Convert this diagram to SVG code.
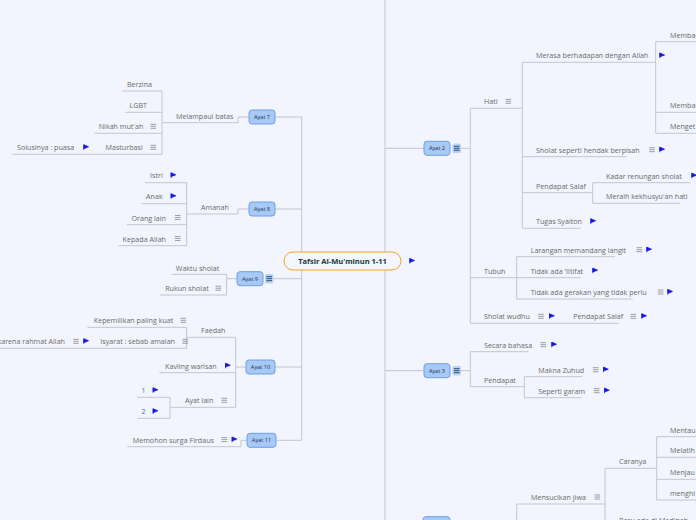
<svg xmlns="http://www.w3.org/2000/svg" xmlns:xlink="http://www.w3.org/1999/xlink" width="696" height="520" viewBox="0 0 696 520">
<style>
.c{stroke:#c2c6ce;stroke-width:1;fill:none}
.t{font-family:"Open Sans","Liberation Sans",sans-serif;font-size:7.15px;fill:#6a6a6a}
.e{text-anchor:end}
.n{fill:#a7c9f6;stroke:#6d9fe8;stroke-width:1}
.nt{font-family:"Open Sans","Liberation Sans",sans-serif;font-size:5.6px;fill:#1d2f4f;text-anchor:middle}
.ib{fill:#b7d3f8;stroke:none}
</style>
<defs>
<g id="note"><path d="M-2.8,-2H2.8M-2.8,0H2.8M-2.8,2H2.8" stroke="#808080" stroke-width="0.75" fill="none"/></g>
<g id="noteD"><path d="M-2.8,-2H2.8M-2.8,0H2.8M-2.8,2H2.8" stroke="#23385c" stroke-width="0.9" fill="none"/></g>
<g id="flag"><path d="M-2.2,-2.6V2.6M-2.2,-2.6L2.6,-0.5L-2.2,1.4Z" stroke="#1414e6" stroke-width="0.7" fill="#1414e6"/></g>
</defs>
<rect x="0" y="0" width="696" height="520" fill="#f2f5fd"/>
<g id="connectors">
<path class="c" d="M249,117H238V122.7H162M162,91V154.3M122,91H162M125.3,112.3H162M94.3,133.3H162M12.3,154.3H162"/>
<path class="c" d="M249,209H238V214H186.7M186.7,182.7V245.7M145,182.7H186.7M141.7,203.7H186.7M126.7,224.7H186.7M118.3,245.7H186.7"/>
<path class="c" d="M237,278.7H226.7M226.7,274.3V295M171.7,274.3H226.7M160,295H226.7"/>
<path class="c" d="M246,367H235.7M235.7,337.3V407.3M186.7,337.3H235.7M186.7,327.3V348.3M87.3,327.3H186.7M0,348.3H187M159.3,372.7H235.7M170,407.3H235.7M170,397.3V418.3M137.3,397.3H170M137.3,418.3H170"/>
<path class="c" d="M247,440.3H241V446.7H127.3"/>
<path class="c" d="M301.7,117V440.3M275,117H301.7M275,209H301.7M273,278.7H301.7M275,367H301.7M276,440.3H301.7"/>
<path class="c" d="M385,0V520M385,148.3H424M385,370.7H424"/>
<path class="c" d="M461,148.3H470.3M470.3,108.3V323.3M470.3,108.3H522.3M522.3,62.3V228.3M522.3,62.3H655.7M655.7,41.7V133.3M655.7,41.7H696M655.7,112.3H696M655.7,133.3H696M522.3,156.7H626.7M522.3,192.7H592.7M592.7,182.7V203.3M592.7,182.7H690M592.7,203.3H680M522.3,228.3H580.7"/>
<path class="c" d="M470.3,277.7H516.7M516.7,256.7V299M516.7,256.7H615M516.7,277.7H580.7M516.7,299H632.7M470.3,323.3H619"/>
<path class="c" d="M461,370.7H470.3M470.3,351.7V386.7M470.3,351.7H528.3M470.3,386.7H524.3M524.3,376.7V397.7M524.3,376.7H582.3M524.3,397.7H581.7"/>
<path class="c" d="M516.7,504V520M516.7,504H605M605,468.3V520M605,468.3H656.7M656.7,436.7V500M656.7,436.7H696M656.7,457.3H696M656.7,479.3H696M656.7,500H696"/>
</g>
<g id="root">
<rect x="284" y="252" width="117" height="18" rx="9" fill="#f4f6fd" stroke="#f5a41c" stroke-width="1"/>
<text x="342.5" y="264" font-family="'Open Sans','Liberation Sans',sans-serif" font-size="7.5px" font-weight="bold" fill="#17353a" text-anchor="middle">Tafsir Al-Mu'minun 1-11</text>
<use href="#flag" x="412" y="261"/>
</g>
<g id="ayat7">
<rect class="n" x="249" y="110" width="26" height="14" rx="3"/><text class="nt" x="262" y="119">Ayat 7</text>
<text class="t" x="176" y="118.5">Melampaui batas</text>
<text class="t e" x="152" y="87.3">Berzina</text>
<text class="t e" x="147" y="108.3">LGBT</text>
<text class="t e" x="143.3" y="129.3">Nikah mut'ah</text><use href="#note" x="153.3" y="126.3"/>
<text class="t e" x="142.7" y="150.3">Masturbasi</text><use href="#note" x="153.3" y="147.3"/>
<text class="t" x="17" y="150.3">Solusinya : puasa</text><use href="#flag" x="86" y="147.3"/>
</g>
<g id="ayat8">
<rect class="n" x="249" y="202" width="26" height="14" rx="3"/><text class="nt" x="262" y="211">Ayat 8</text>
<text class="t" x="201" y="210">Amanah</text>
<text class="t e" x="162.7" y="178.3">Istri</text><use href="#flag" x="173.3" y="175.3"/>
<text class="t e" x="162.7" y="199.3">Anak</text><use href="#flag" x="173.3" y="196.3"/>
<text class="t e" x="166" y="220.5">Orang lain</text><use href="#note" x="177.7" y="217.5"/>
<text class="t e" x="166" y="241.5">Kepada Allah</text><use href="#note" x="177.7" y="238.5"/>
</g>
<g id="ayat9">
<rect class="n" x="237" y="271.7" width="26" height="14" rx="3"/><text class="nt" x="250" y="280.7">Ayat 9</text>
<rect class="ib" x="265" y="274" width="8.5" height="9.5" rx="1.5"/><use href="#noteD" x="269.2" y="278.7"/>
<text class="t e" x="219.3" y="270.5">Waktu sholat</text>
<text class="t e" x="208.7" y="291.2">Rukun sholat</text><use href="#note" x="218.3" y="288.2"/>
</g>
<g id="ayat10">
<rect class="n" x="246" y="360" width="29" height="14" rx="3"/><text class="nt" x="260.5" y="369">Ayat 10</text>
<text class="t" x="201" y="333.3">Faedah</text>
<text class="t e" x="173.3" y="323.3">Kepemilikan paling kuat</text><use href="#note" x="183.3" y="320.3"/>
<text class="t e" x="175" y="344.3">Isyarat : sebab amalan</text><use href="#note" x="185.3" y="341.3"/>
<text class="t e" x="65" y="344.3">karena rahmat Allah</text><use href="#note" x="76" y="341.3"/><use href="#flag" x="86" y="341.3"/>
<text class="t e" x="216.7" y="368.7">Kavling warisan</text><use href="#flag" x="227.7" y="365.7"/>
<text class="t e" x="213.3" y="403.3">Ayat lain</text><use href="#note" x="224.3" y="400.3"/>
<text class="t e" x="145.7" y="393.3">1</text><use href="#flag" x="155.3" y="390.3"/>
<text class="t e" x="145.7" y="414.3">2</text><use href="#flag" x="155.3" y="411.3"/>
</g>
<g id="ayat11">
<rect class="n" x="247" y="433.3" width="29" height="14" rx="3"/><text class="nt" x="261.5" y="442.3">Ayat 11</text>
<text class="t e" x="214" y="442.6">Memohon surga Firdaus</text><use href="#note" x="224.3" y="439.6"/><use href="#flag" x="234.3" y="439.6"/>
</g>
<g id="ayat2">
<rect class="n" x="424" y="141.3" width="26" height="14" rx="3"/><text class="nt" x="437" y="150.3">Ayat 2</text>
<rect class="ib" x="452.5" y="143.5" width="8.5" height="9.5" rx="1.5"/><use href="#noteD" x="456.7" y="148.3"/>
<text class="t" x="484" y="104.3">Hati</text><use href="#note" x="508.3" y="101.3"/>
<text class="t" x="536" y="58.3">Merasa berhadapan dengan Allah</text><use href="#flag" x="662" y="55.5"/>
<text class="t" x="670" y="37.7">Membac</text>
<text class="t" x="670" y="108.3">Membac</text>
<text class="t" x="670" y="129.3">Menget</text>
<text class="t" x="536" y="152.7">Sholat seperti hendak berpisah</text><use href="#note" x="652" y="149.7"/><use href="#flag" x="662" y="149.7"/>
<text class="t" x="536" y="188.7">Pendapat Salaf</text>
<text class="t" x="606" y="178.7">Kadar renungan sholat</text><use href="#flag" x="694" y="175.7"/>
<text class="t" x="606" y="199.3">Meraih kekhusyu'an hati</text>
<text class="t" x="536" y="224.3">Tugas Syaiton</text><use href="#flag" x="593" y="221.3"/>
<text class="t" x="484" y="273.7">Tubuh</text>
<text class="t" x="530.7" y="252.7">Larangan memandang langit</text><use href="#note" x="639.3" y="249.7"/><use href="#flag" x="649" y="249.7"/>
<text class="t" x="530.7" y="273.7">Tidak ada 'Iltifat</text><use href="#flag" x="595" y="270.7"/>
<text class="t" x="530.7" y="295">Tidak ada gerakan yang tidak perlu</text><use href="#note" x="660.7" y="292"/><use href="#flag" x="670" y="292"/>
<text class="t" x="484" y="319.3">Sholat wudhu</text><use href="#note" x="541" y="316.3"/><use href="#flag" x="551.7" y="316.3"/>
<text class="t" x="573.3" y="319.3">Pendapat Salaf</text><use href="#note" x="633.3" y="316.3"/><use href="#flag" x="644" y="316.3"/>
</g>
<g id="ayat3">
<rect class="n" x="424" y="363.7" width="26" height="14" rx="3"/><text class="nt" x="437" y="372.7">Ayat 3</text>
<rect class="ib" x="452.5" y="366" width="8.5" height="9.5" rx="1.5"/><use href="#noteD" x="456.7" y="370.7"/>
<text class="t" x="484" y="347.7">Secara bahasa</text><use href="#note" x="543.3" y="344.7"/><use href="#flag" x="554" y="344.7"/>
<text class="t" x="484" y="382.7">Pendapat</text>
<text class="t" x="538.3" y="372.7">Makna Zuhud</text><use href="#note" x="595.7" y="369.7"/><use href="#flag" x="605.7" y="369.7"/>
<text class="t" x="538.3" y="393.7">Seperti garam</text><use href="#note" x="596.7" y="390.7"/><use href="#flag" x="606.7" y="390.7"/>
</g>
<g id="ayat4">
<rect class="n" x="423" y="516.7" width="27" height="14" rx="3"/>
<text class="t" x="531" y="500">Mensucikan jiwa</text><use href="#note" x="597.3" y="497"/>
<text class="t" x="619" y="464.3">Caranya</text>
<text class="t" x="670" y="432.7">Mentau</text>
<text class="t" x="670" y="453.3">Melatih</text>
<text class="t" x="670" y="475.3">Menjau</text>
<text class="t" x="670" y="496">menghi</text>
<text class="t" x="619" y="523">Baru ada di Madinah</text>
</g>
</svg>
